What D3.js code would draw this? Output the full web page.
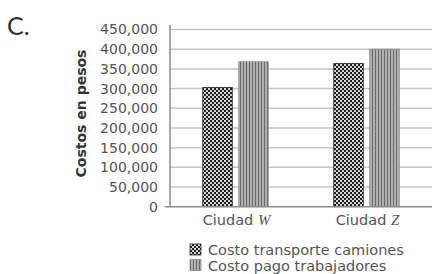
<!DOCTYPE html>
<html>
<head>
<meta charset="utf-8">
<script src="https://cdn.jsdelivr.net/npm/d3@7"></script>
<style>
  body { margin: 0; background: #fff; }
  svg { display: block; }
</style>
</head>
<body>
<div id="chart"></div>
<script>
// data
var cities = ["Ciudad W", "Ciudad Z"];
var cityLetters = ["W", "Z"];
var series = ["Costo transporte camiones", "Costo pago trabajadores"];
var transporte = [303000, 364000];
var trabajadores = [368000, 400000];
var yTicks = [0, 50000, 100000, 150000, 200000, 250000, 300000, 350000, 400000, 450000];

var width = 432, height = 274;
var margin = {top: 29.5, right: 0, bottom: 67.3, left: 170};

var svg = d3.select("#chart")
  .append("svg")
    .attr("width", width)
    .attr("height", height);

// patterns for the two series
var defs = svg.append("defs");
var dots = defs.append("pattern")
    .attr("id", "pat-dots")
    .attr("patternUnits", "userSpaceOnUse")
    .attr("width", 4).attr("height", 4);
dots.append("rect").attr("width", 4).attr("height", 4).attr("fill", "#1e1e1e");
dots.append("circle").attr("cx", 1).attr("cy", 1).attr("r", 1.1).attr("fill", "#eee");
dots.append("circle").attr("cx", 3).attr("cy", 3).attr("r", 1.1).attr("fill", "#eee");

var stripes = defs.append("pattern")
    .attr("id", "pat-stripes")
    .attr("patternUnits", "userSpaceOnUse")
    .attr("width", 3).attr("height", 3);
stripes.append("rect").attr("width", 3).attr("height", 3).attr("fill", "#b0b0b0");
stripes.append("rect").attr("width", 1).attr("height", 3).attr("fill", "#6a6a6a");

var y = d3.scaleLinear()
    .domain([0, 450000])
    .range([height - margin.bottom, margin.top]);

var x = d3.scaleBand()
    .domain(cities)
    .range([margin.left, width - margin.right]);

var xSub = d3.scaleBand()
    .domain(series)
    .range([0, x.bandwidth()])
    .paddingInner(0.18)
    .paddingOuter(0.91);

// gridlines
svg.append("g")
  .selectAll("line")
  .data(yTicks.slice(1))
  .enter()
  .append("line")
    .attr("x1", margin.left)
    .attr("x2", width)
    .attr("y1", function (d) { return y(d); })
    .attr("y2", function (d) { return y(d); })
    .style("stroke", "#c6c6c6")
    .style("stroke-width", "1.5px");

// bars
var fills = ["url(#pat-dots)", "url(#pat-stripes)"];
var strokes = ["#222", "#8a8a8a"];
var values = [transporte, trabajadores];
series.forEach(function (s, si) {
  svg.append("g")
    .selectAll("rect")
    .data(values[si])
    .enter()
    .append("rect")
      .attr("x", function (d, i) { return x(cities[i]) + xSub(s); })
      .attr("y", function (d) { return y(d); })
      .attr("width", xSub.bandwidth())
      .attr("height", function (d) { return y(0) - y(d); })
      .style("fill", fills[si])
      .style("stroke", strokes[si])
      .style("stroke-width", "0.8px");
});

// y axis
var yAxis = svg.append("g")
  .attr("transform", "translate(" + margin.left + ",0)")
  .call(d3.axisLeft(y).tickValues(yTicks).tickFormat(d3.format(",")).tickSize(0).tickPadding(12));
yAxis.select(".domain").remove();
yAxis.selectAll("text")
  .style("font-family", "DejaVu Sans")
  .style("font-size", "14px")
  .style("fill", "#555");

svg.append("line")
  .attr("x1", margin.left).attr("x2", margin.left)
  .attr("y1", 25).attr("y2", y(0))
  .style("stroke", "#8c8c8c")
  .style("stroke-width", "1.5px");

// x axis
svg.append("line")
  .attr("x1", margin.left - 5).attr("x2", width)
  .attr("y1", y(0)).attr("y2", y(0))
  .style("stroke", "#8c8c8c")
  .style("stroke-width", "1.5px");

var xLabels = svg.append("g")
  .selectAll("text")
  .data(cities)
  .enter()
  .append("text")
    .attr("x", function (d) { return x(d) + x.bandwidth() / 2 + 1; })
    .attr("y", 225)
    .attr("text-anchor", "middle")
    .style("font-family", "DejaVu Sans")
    .style("font-size", "14.5px")
    .style("fill", "#555");
xLabels.append("tspan").text("Ciudad ");
xLabels.append("tspan")
  .style("font-family", "Liberation Serif")
  .style("font-style", "italic")
  .style("font-size", "15px")
  .text(function (d, i) { return cityLetters[i]; });

// y axis title
svg.append("text")
  .attr("transform", "translate(86,113.5) rotate(-90)")
  .attr("text-anchor", "middle")
  .style("font-family", "DejaVu Sans")
  .style("font-weight", "bold")
  .style("font-size", "14px")
  .style("fill", "#333")
  .text("Costos en pesos");

// panel letter
svg.append("text")
  .attr("x", 7)
  .attr("y", 35)
  .style("font-family", "Lato")
  .style("font-size", "25px")
  .style("fill", "#333")
  .text("C.");

// legend
var legend = svg.append("g")
  .selectAll("g")
  .data(series)
  .enter()
  .append("g")
    .attr("transform", function (d, i) { return "translate(190," + (244 + i * 15.5) + ")"; });
legend.append("rect")
  .attr("width", 11).attr("height", 11)
  .style("fill", function (d, i) { return fills[i]; })
  .style("stroke", function (d, i) { return strokes[i]; })
  .style("stroke-width", "0.8px");
legend.append("text")
  .attr("x", 18)
  .attr("y", 11)
  .style("font-family", "DejaVu Sans")
  .style("font-size", "14.5px")
  .style("fill", "#555")
  .text(function (d) { return d; });
</script>
</body>
</html>
